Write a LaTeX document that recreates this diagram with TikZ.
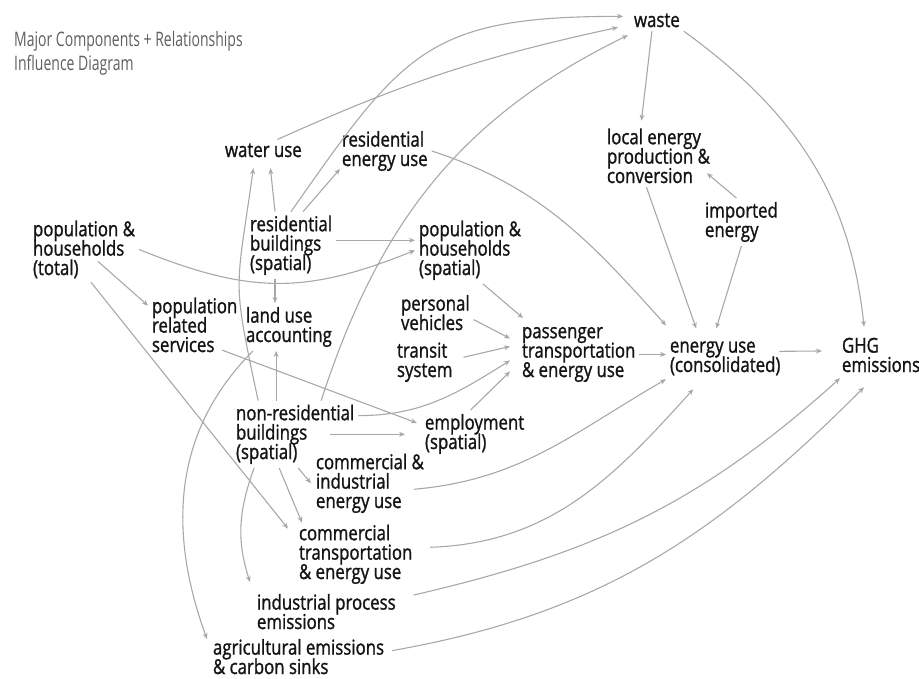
\documentclass[tikz,border=0pt]{standalone}
\usepackage{fontspec}
\usetikzlibrary{arrows.meta}
\newfontfamily\labelfamily{Open Sans}[FakeStretch=0.82,FakeBold=1.2]
\newfontfamily\headfamily{Open Sans}[FakeStretch=0.70]
\definecolor{linegray}{RGB}{168,168,168}
\definecolor{inkgray}{RGB}{20,20,20}
\definecolor{headgray}{RGB}{95,95,95}
\newcommand{\itemfont}{\labelfamily\fontsize{20.5}{19.4}\selectfont\lineskiplimit=-30pt\relax}
\newcommand{\headfont}{\headfamily\fontsize{20}{23.3}\selectfont\lineskiplimit=-30pt\relax}

\begin{document}
\begin{tikzpicture}[x=1pt, y=-1pt,
  myitem/.style={font=\itemfont, text=inkgray, align=left, inner sep=0pt, outer sep=4pt, anchor=base west, xshift=-4pt},
  mylink/.style={draw=linegray, line width=1.1pt, -{Stealth[length=6pt,width=5pt]}},
  heading/.style={font=\headfont, text=headgray, align=left, inner sep=0pt, anchor=base west}
  ]
  \useasboundingbox (0,0) rectangle (919,678);

  \node[heading] (title) at (14,70) {Major Components + Relationships\\Influence Diagram};

  \node[myitem] (waste) at (634,27) {waste};
  \node[myitem] (localE) at (607,183) {local energy\\production \&\\conversion};
  \node[myitem] (importE) at (705,237) {imported\\energy};
  \node[myitem] (ghg) at (842,372) {GHG\\emissions};
  \node[myitem] (energy) at (670,372) {energy use\\(consolidated)};
  \node[myitem] (pass) at (522,377) {passenger\\transportation\\\& energy use};
  \node[myitem] (pv) at (401,330) {personal\\vehicles};
  \node[myitem] (transit) at (397,377) {transit\\system};
  \node[myitem] (employ) at (425,449) {employment\\(spatial)};
  \node[myitem] (pophs) at (419,275) {population \&\\households\\(spatial)};
  \node[myitem] (resb) at (250,270) {residential\\buildings\\(spatial)};
  \node[myitem] (water) at (225,157) {water use};
  \node[myitem] (resE) at (342,166) {residential\\energy use};
  \node[myitem] (popt) at (33,275) {population \&\\households\\(total)};
  \node[myitem] (prs) at (152,352) {population\\related\\services};
  \node[myitem] (landuse) at (246,342) {land use\\accounting};
  \node[myitem] (nonres) at (236,459) {non-residential\\buildings\\(spatial)};
  \node[myitem] (ciE) at (316,508) {commercial \&\\industrial\\energy use};
  \node[myitem] (comtr) at (299,579) {commercial\\transportation\\\& energy use};
  \node[myitem] (indproc) at (257,629) {industrial process\\emissions};
  \node[myitem] (agri) at (213,674) {agricultural emissions\\\& carbon sinks};

  \draw[mylink] (resb.north) to[out=55,in=180,looseness=1.3] ([xshift=-7pt,yshift=4pt]waste.west);
  \draw[mylink] ([xshift=14pt]water.north) to[bend left=6] ([xshift=-12pt,yshift=-7pt]waste.west);
  \draw[mylink] ([xshift=26pt]nonres.north) to[out=72,in=206] ([xshift=-2pt,yshift=-4pt]waste.south west);
  \draw[mylink] ([xshift=-5pt]waste.south) -- ([xshift=-17pt,yshift=4pt]localE.north);
  \draw[mylink] (waste.south east) to[out=-36,in=96] ([xshift=-17pt,yshift=7pt]ghg.north);
  \draw[mylink] ([xshift=-5pt]importE.north) -- ([xshift=-7pt,yshift=14pt]localE.south east);
  \draw[mylink] ([xshift=-12pt]localE.south) -- ([xshift=-29pt,yshift=9pt]energy.north);
  \draw[mylink] (importE.south) -- ([xshift=-9pt,yshift=9pt]energy.north);
  \draw[mylink] (resE.east) to[out=-18,in=132] ([yshift=12pt]energy.north west);
  \draw[mylink] ([xshift=-5pt,yshift=7pt]energy.east) -- ([xshift=-16pt,yshift=4pt]ghg.west);
  \draw[mylink] (pass.east) -- (pass.east -| energy.west);
  \draw[mylink] ([xshift=-14pt,yshift=-6pt]ciE.east) to[out=5,in=210] (energy.south west);
  \draw[mylink] ([xshift=14pt,yshift=7pt]comtr.east) to[out=2,in=228] ([xshift=-32pt,yshift=-10pt]energy.south);
  \draw[mylink] ([xshift=14pt,yshift=-5pt]indproc.north east) to[out=13,in=222] ([xshift=2pt,yshift=-2pt]ghg.south west);
  \draw[mylink] ([xshift=4pt,yshift=6pt]agri.east) to[out=10,in=225] ([xshift=-17pt,yshift=-11pt]ghg.south);

  \draw[mylink] ([xshift=-16pt]resb.north) -- ([xshift=7pt,yshift=-7pt]water.south);
  \draw[mylink] ([xshift=12pt]resb.north) -- ([xshift=2pt,yshift=6pt]resE.south west);
  \draw[mylink] ([yshift=5pt]resb.east) -- ([yshift=5pt]resb.east -| pophs.west);
  \draw[mylink] ([xshift=-16pt]resb.south) -- ([xshift=-16pt]resb.south |- landuse.north);

  \draw[mylink] (popt.east) to[out=-22,in=202,looseness=1.1] (pophs.west);
  \draw[mylink] ([xshift=14pt,yshift=-12pt]popt.center) -- ([yshift=-12pt]prs.north west);
  \draw[mylink] ([xshift=7pt]popt.south) -- ([xshift=-7pt,yshift=-8pt]comtr.north west);
  \draw[mylink] ([xshift=-19pt,yshift=6pt]prs.south east) -- ([xshift=-4pt,yshift=11pt]employ.west);

  \draw[mylink] ([xshift=-37pt]nonres.north) to[out=102,in=-98,looseness=1.4] ([xshift=-10pt,yshift=-7pt]water.south);
  \draw[mylink] ([xshift=-19pt]nonres.north) -- ([xshift=-19pt]nonres.north |- landuse.south);
  \draw[mylink] ([yshift=-15pt]nonres.north east) to[out=0,in=212] ([xshift=-8pt,yshift=-6pt]pass.west);
  \draw[mylink,shorten >=16pt] ([xshift=-28pt]nonres.east) -- (nonres.east -| employ.west);
  \draw[mylink] ([xshift=3pt]nonres.south) -- ([xshift=-1pt]ciE.west);
  \draw[mylink] ([xshift=-16pt]nonres.south) -- ([xshift=7pt,yshift=-2pt]comtr.north west);
  \draw[mylink] ([xshift=-41pt]nonres.south) to[out=-110,in=108] ([xshift=-3pt,yshift=8pt]indproc.north west);
  \draw[mylink] ([xshift=11pt]landuse.south west) to[out=-135,in=110] ([xshift=-2pt,yshift=-4pt]agri.north west);

  \draw[mylink] ([yshift=-7pt]pv.east) -- ([xshift=-8pt,yshift=16pt]pass.west);
  \draw[mylink] ([xshift=7pt,yshift=5pt]transit.east) -- ([xshift=-8pt,yshift=8pt]pass.west);
  \draw[mylink] ([xshift=-4pt]employ.north) -- ([xshift=-8pt,yshift=-17pt]pass.west);
  \draw[mylink] ([xshift=13pt]pophs.south) -- ([xshift=5pt,yshift=5pt]pass.north west);

\end{tikzpicture}
\end{document}
